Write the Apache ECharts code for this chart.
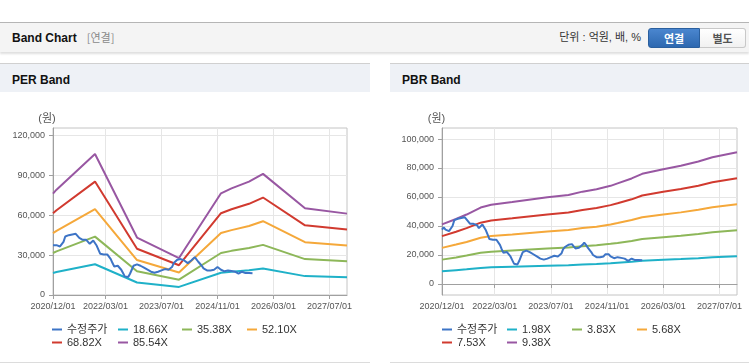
<!DOCTYPE html>
<html>
<head>
<meta charset="utf-8">
<script src="https://cdn.jsdelivr.net/npm/echarts@6/dist/echarts.min.js"></script>
<style>
html,body{margin:0;padding:0;width:749px;height:364px;overflow:hidden;background:#fff;
  font-family:"Liberation Sans",Arial,"Noto Sans CJK KR",sans-serif;}
.hdr{position:absolute;left:0;top:22px;width:749px;height:29px;background:#f4f4f4;
  border-top:1px solid #b5b5b5;box-shadow:0 2px 2px rgba(0,0,0,0.13);}
.hdr .t{position:absolute;left:12px;top:0;line-height:29px;font-size:12px;font-weight:bold;color:#111;}
.hdr .t span{font-weight:normal;color:#8a8a8a;margin-left:10px;font-family:"Noto Sans CJK KR",sans-serif;font-size:11px;}
.hdr .u{position:absolute;right:108px;top:0;line-height:29px;font-size:11px;color:#333;white-space:pre;
  font-family:"Liberation Sans",Arial,"Noto Sans CJK KR",sans-serif;}
.btn{position:absolute;top:5px;height:18px;line-height:18px;text-align:center;font-size:11px;font-weight:bold;
  font-family:"Noto Sans CJK KR",sans-serif;}
.b1{left:648px;width:50px;background:linear-gradient(#4a86cf,#2d68b0);border:1px solid #2a5f9e;border-radius:3px 0 0 3px;color:#fff;}
.b2{left:700px;width:45px;background:linear-gradient(#ffffff,#f1f1f1);border:1px solid #c8c8c8;border-left:none;border-radius:0 3px 3px 0;color:#555;}
.panel{position:absolute;top:63px;height:298px;border-top:1px solid #d0d0d0;border-bottom:1px solid #dcdcdc;background:#fff;}
.panel .ph{height:28px;background:#eef1f6;line-height:32px;padding-left:12px;font-size:12px;font-weight:bold;color:#111;}
#chart{position:absolute;left:0;top:0;width:749px;height:364px;z-index:2;}
</style>
</head>
<body>
<div class="hdr">
  <div class="t">Band Chart<span>[연결]</span></div>
  <div class="u">단위 : 억원, 배, %</div>
  <div class="btn b1">연결</div>
  <div class="btn b2">별도</div>
</div>
<div class="panel" style="left:0;width:370px;"><div class="ph">PER Band</div></div>
<div class="panel" style="left:390px;width:359px;"><div class="ph">PBR Band</div></div>
<div id="chart"></div>
<script>
// ---------- data ----------
const xTickLabels = ['2020/12/01','2022/03/01','2023/07/01','2024/11/01','2026/03/01','2027/07/01'];
const perYTicks = [0, 30000, 60000, 90000, 120000];
const pbrYTicks = [0, 20000, 40000, 60000, 80000, 100000];

const perNames = ['수정주가','18.66X','35.38X','52.10X','68.82X','85.54X'];
const pbrNames = ['수정주가','1.98X','3.83X','5.68X','7.53X','9.38X'];

// adjusted stock price, semi-monthly from 2020/12/01
const price = [
  37500,39000,37500,36500,36500,37000,40000,44000,44500,45000,
  45000,45500,45500,46000,46500,43000,41500,41500,41500,41500,
  40500,38500,38000,41000,40000,37000,34000,31000,30500,30500,
  31000,30500,29500,27000,24000,21500,20500,22000,21000,19000,
  16500,14000,13000,13500,16000,19000,22000,23000,23000,22500,
  22000,21000,20500,19500,19000,18500,17500,17000,16800,17000,
  17500,18000,18500,19000,19500,19500,19000,19500,21000,24000,
  25500,26500,27000,27000,27500,26000,24500,24000,25000,26000,
  27000,28500,27000,25000,23500,22000,20000,19000,18500,18500,
  18500,18500,19000,20500,21000,20500,19000,18000,17800,18000,
  18500,18300,18000,18000,17500,16500,16000,16500,17500,17000,
  16500,16500,16500,16500,16300
];

// PER band anchor dates and values
const perBandDates = ['2020/12/01','2021/01/01','2021/12/01','2022/12/01','2023/12/01','2024/12/01',
  '2025/03/01','2025/08/01','2025/12/01','2026/12/01','2027/12/01'];
const per1866 = [16600,17300,23100,9400,6100,16700,17500,18600,19900,14200,13300];
const per3538 = [31600,32800,43900,17900,11500,31600,33200,35300,37700,27000,25300];
const per5210 = [46500,48200,64600,26300,16900,46600,48800,51900,55500,39700,37300];
const per6882 = [61400,63700,85300,34800,22400,61500,64500,68600,73300,52400,49200];
const per8554 = [76300,79200,106100,43200,27800,76500,80200,85300,91100,65200,61200];

// PBR band anchor dates and values
const pbrBandDates = ['2020/12/01','2021/04/01','2021/07/01','2021/11/01','2022/02/01','2022/08/01',
  '2023/06/01','2023/12/01','2024/04/01','2024/08/01','2024/12/01','2025/02/01','2025/06/01',
  '2025/09/01','2026/03/01','2026/08/01','2027/01/01','2027/05/01','2027/12/01'];
const pbr198 = [8700,9500,10100,11100,11500,11900,12600,13000,13400,13800,14300,14700,15400,16000,16700,17200,17800,18500,19200];
const pbr383 = [16800,18300,19600,21500,22300,23100,24400,25100,26000,26700,27700,28300,29700,31000,32300,33300,34500,35700,37100];
const pbr568 = [24900,27200,29000,31900,33100,34200,36200,37200,38600,39500,41000,42000,44100,46000,47900,49400,51200,52900,55000];
const pbr753 = [33000,36000,38500,42300,43800,45300,48000,49300,51100,52400,54400,55700,58400,61000,63600,65500,67800,70200,72900];
const pbr938 = [41100,44800,47900,52700,54600,56500,59800,61400,63700,65300,67700,69400,72800,76000,79200,81600,84500,87400,90800];

// semi-monthly category axis 2020/12/01 .. 2027/12/01
const categories = [];
for (let k = 0; k <= 84; k++) {
  const y = 2020 + Math.floor((11 + k) / 12), mo = (11 + k) % 12 + 1;
  const mm = String(mo).padStart(2, '0');
  categories.push(y + '/' + mm + '/01');
  if (k < 84) categories.push(y + '/' + mm + '/16');
}

// ---------- styling ----------
const colors = ['#3d74c6','#1fb1c8','#8db759','#f5a83a','#d13a2f','#9857a2'];
const FONT = '"Liberation Sans", Arial, "Noto Sans CJK KR", sans-serif';
const fmt = v => Number(v).toLocaleString('en-US');
const isTick = (i, v) => xTickLabels.indexOf(v) >= 0;

function pairs(dates, vals) { return dates.map((d, k) => [d, vals[k]]); }

function xAxis(g) {
  return {
    type: 'category', gridIndex: g, data: categories, boundaryGap: false,
    axisLine: { lineStyle: { color: '#a0a0a0' } },
    axisTick: { interval: isTick, length: 4, lineStyle: { color: '#a0a0a0' } },
    axisLabel: { interval: isTick, fontSize: 9, color: '#555', margin: 7, fontFamily: FONT },
    splitLine: { show: true, interval: isTick, lineStyle: { color: '#e6e6e6' } }
  };
}
function yAxis(g, min, max, ticks, nameShift) {
  return {
    type: 'value', gridIndex: g, min: min, max: max,
    axisLine: { show: true, lineStyle: { color: '#a0a0a0' } },
    axisTick: { show: true, length: 4, customValues: ticks, lineStyle: { color: '#a0a0a0' } },
    axisLabel: { customValues: ticks, formatter: fmt, fontSize: 9, color: '#555', margin: 8, fontFamily: FONT },
    splitLine: { show: true, lineStyle: { color: '#e6e6e6' } },
    name: '(원)', nameLocation: 'end', nameGap: 4,
    nameTextStyle: { fontSize: 11, color: '#555', fontFamily: FONT, align: 'center', padding: [0, nameShift, 0, 0] }
  };
}
function lineSeries(name, data, ci, g, z) {
  return { type: 'line', name: name, data: data, xAxisIndex: g, yAxisIndex: g,
    showSymbol: false, symbol: 'none', connectNulls: true, z: z || 2,
    lineStyle: { width: 2, color: colors[ci] }, itemStyle: { color: colors[ci] } };
}
function legends(names, cols, rows) {
  const out = [];
  names.forEach((n, k) => {
    out.push({
      data: [n], left: cols[k % 4], top: rows[Math.floor(k / 4)], padding: 0,
      icon: 'rect', itemWidth: 10, itemHeight: 2, selectedMode: false,
      textStyle: { fontSize: 11, color: '#333', fontFamily: FONT }
    });
  });
  return out;
}

const option = {
  animation: false,
  grid: [
    { left: 53, top: 128, width: 294, height: 167, show: true, borderColor: '#c4c4c4', borderWidth: 1, outerBoundsMode: 'none' },
    { left: 442, top: 128, width: 295, height: 167, show: true, borderColor: '#c4c4c4', borderWidth: 1, outerBoundsMode: 'none' }
  ],
  xAxis: [xAxis(0), xAxis(1)],
  yAxis: [yAxis(0, 0, 125600, perYTicks, 12), yAxis(1, -7600, 107600, pbrYTicks, 11)],
  legend: legends(perNames, [52, 118, 182, 247], [324, 337])
    .concat(legends(pbrNames, [442, 507, 572, 637], [324, 337])),
  series: [
    lineSeries(perNames[1], pairs(perBandDates, per1866), 1, 0),
    lineSeries(perNames[2], pairs(perBandDates, per3538), 2, 0),
    lineSeries(perNames[3], pairs(perBandDates, per5210), 3, 0),
    lineSeries(perNames[4], pairs(perBandDates, per6882), 4, 0),
    lineSeries(perNames[5], pairs(perBandDates, per8554), 5, 0),
    lineSeries(perNames[0], price, 0, 0, 3),
    lineSeries(pbrNames[1], pairs(pbrBandDates, pbr198), 1, 1),
    lineSeries(pbrNames[2], pairs(pbrBandDates, pbr383), 2, 1),
    lineSeries(pbrNames[3], pairs(pbrBandDates, pbr568), 3, 1),
    lineSeries(pbrNames[4], pairs(pbrBandDates, pbr753), 4, 1),
    lineSeries(pbrNames[5], pairs(pbrBandDates, pbr938), 5, 1),
    lineSeries(pbrNames[0], price, 0, 1, 3)
  ]
};
const chart = echarts.init(document.getElementById('chart'), null, { renderer: 'canvas' });
chart.setOption(option);
</script>
</body>
</html>
